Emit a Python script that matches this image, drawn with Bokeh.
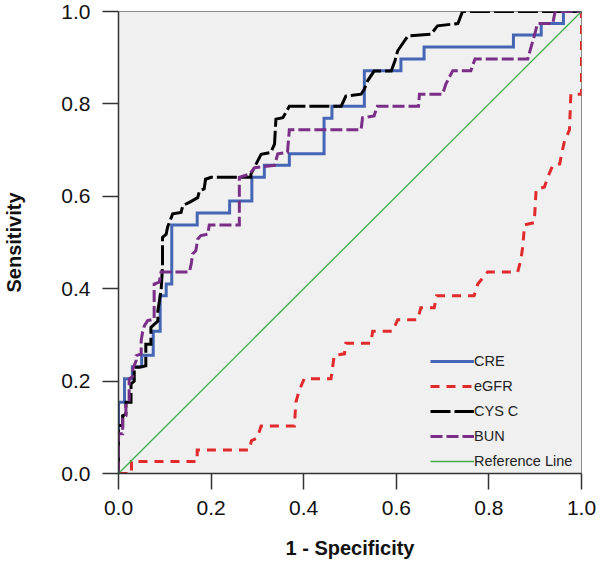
from bokeh.plotting import figure
from bokeh.models import FixedTicker, PrintfTickFormatter, Legend, LegendItem
from bokeh.embed import file_html
from bokeh.resources import INLINE

# ---- data (ROC curve vertices) ----
cre_fpr = [0, 0, 0.013, 0.013, 0.03, 0.03, 0.05, 0.05, 0.075, 0.075, 0.09, 0.09, 0.103, 0.103,
           0.115, 0.115, 0.17, 0.17, 0.24, 0.24, 0.288, 0.288, 0.315, 0.315, 0.369, 0.369,
           0.444, 0.444, 0.461, 0.461, 0.531, 0.531, 0.61, 0.61, 0.66, 0.66, 0.853, 0.853,
           0.913, 0.913, 0.961, 0.961, 1.0]
cre_tpr = [0, 0.154, 0.154, 0.205, 0.205, 0.231, 0.231, 0.256, 0.256, 0.308, 0.308, 0.385, 0.385, 0.41,
           0.41, 0.538, 0.538, 0.564, 0.564, 0.59, 0.59, 0.641, 0.641, 0.667, 0.667, 0.692,
           0.692, 0.769, 0.769, 0.795, 0.795, 0.872, 0.872, 0.897, 0.897, 0.923, 0.923, 0.949,
           0.949, 0.974, 0.974, 1.0, 1.0]

egfr_fpr = [0, 0.028, 0.028, 0.17, 0.17, 0.283, 0.287, 0.3, 0.308, 0.38, 0.383, 0.39, 0.401,
            0.459, 0.466, 0.488, 0.491, 0.545, 0.549, 0.592, 0.603, 0.646, 0.653, 0.682, 0.687,
            0.768, 0.776, 0.797, 0.862, 0.869, 0.873, 0.877, 0.898, 0.902, 0.92, 0.927, 0.938,
            0.953, 0.957, 0.963, 0.974, 0.977, 1.0, 1.0]
egfr_tpr = [0, 0, 0.026, 0.026, 0.051, 0.051, 0.071, 0.077, 0.103, 0.103, 0.154, 0.179, 0.205,
            0.205, 0.256, 0.259, 0.282, 0.282, 0.308, 0.308, 0.333, 0.333, 0.359, 0.359, 0.385,
            0.385, 0.41, 0.436, 0.436, 0.462, 0.49, 0.538, 0.543, 0.615, 0.62, 0.641, 0.667,
            0.67, 0.692, 0.718, 0.744, 0.821, 0.821, 1.0]

cys_fpr = [0, 0, 0.009, 0.009, 0.016, 0.016, 0.027, 0.027, 0.034, 0.034, 0.045, 0.059, 0.059,
           0.07, 0.07, 0.085, 0.085, 0.092, 0.095, 0.095, 0.103, 0.106, 0.117, 0.135, 0.139,
           0.153, 0.171, 0.175, 0.185, 0.188, 0.2, 0.286, 0.286, 0.308, 0.329, 0.337, 0.34,
           0.355, 0.369, 0.481, 0.491, 0.524, 0.531, 0.538, 0.552, 0.589, 0.597, 0.603, 0.625,
           0.675, 0.689, 0.733, 0.743, 1.0]
cys_tpr = [0, 0.104, 0.104, 0.125, 0.128, 0.154, 0.154, 0.194, 0.2, 0.23, 0.23, 0.233, 0.28,
           0.28, 0.316, 0.33, 0.352, 0.396, 0.446, 0.511, 0.518, 0.533, 0.562, 0.565, 0.58,
           0.587, 0.597, 0.612, 0.616, 0.637, 0.641, 0.641, 0.648, 0.691, 0.695, 0.713, 0.767,
           0.77, 0.795, 0.795, 0.817, 0.821, 0.832, 0.85, 0.871, 0.871, 0.893, 0.915, 0.947,
           0.951, 0.969, 0.974, 1.0, 1.0]

bun_fpr = [0, 0, 0.009, 0.009, 0.016, 0.016, 0.023, 0.023, 0.031, 0.031, 0.038, 0.038, 0.049,
           0.049, 0.052, 0.056, 0.063, 0.077, 0.077, 0.088, 0.092, 0.153, 0.157, 0.16, 0.167,
           0.171, 0.178, 0.193, 0.196, 0.261, 0.261, 0.283, 0.294, 0.337, 0.344, 0.365, 0.369,
           0.524, 0.527, 0.552, 0.559, 0.648, 0.65, 0.7, 0.707, 0.722, 0.761, 0.77, 0.884,
           0.891, 0.898, 0.905, 0.938, 0.943, 1.0]
bun_tpr = [0, 0.086, 0.086, 0.122, 0.125, 0.151, 0.158, 0.205, 0.21, 0.226, 0.244, 0.255, 0.259,
           0.288, 0.306, 0.32, 0.331, 0.334, 0.41, 0.414, 0.436, 0.436, 0.453, 0.475, 0.482,
           0.507, 0.515, 0.518, 0.538, 0.538, 0.641, 0.648, 0.662, 0.667, 0.692, 0.695, 0.744,
           0.744, 0.77, 0.774, 0.795, 0.795, 0.821, 0.821, 0.843, 0.872, 0.872, 0.897, 0.897,
           0.923, 0.947, 0.974, 0.974, 1.0, 1.0]

ref_x = [0, 1]
ref_y = [0, 1]

tick_values = [0.0, 0.2, 0.4, 0.6, 0.8, 1.0]
series_names = ["CRE", "eGFR", "CYS C", "BUN", "Reference Line"]

# ---- figure ----
p = figure(width=598, height=562, x_range=(0, 1), y_range=(0, 1),
           output_backend="svg", toolbar_location=None,
           min_border_left=118, min_border_right=17, min_border_top=11, min_border_bottom=89)
p.background_fill_color = "#f0f0f0"
p.border_fill_color = "white"
p.grid.visible = False
p.outline_line_color = "#8c8c8c"
p.outline_line_width = 1

for ax in (p.xaxis[0], p.yaxis[0]):
    ax.ticker = FixedTicker(ticks=tick_values)
    ax.formatter = PrintfTickFormatter(format="%.1f")
    ax.major_tick_out = 16
    ax.major_tick_in = 0
    ax.minor_tick_out = 0
    ax.minor_tick_in = 0
    ax.axis_line_color = "#333333"
    ax.axis_line_width = 1.5
    ax.major_tick_line_color = "#333333"
    ax.major_tick_line_width = 1.5
    ax.major_label_text_font = "Liberation Sans"
    ax.major_label_text_font_size = "21px"
    ax.major_label_text_color = "#111111"
    ax.axis_label_text_font = "Liberation Sans"
    ax.axis_label_text_font_size = "20px"
    ax.axis_label_text_font_style = "bold"
    ax.axis_label_text_color = "#111111"

p.xaxis.axis_label = "1 - Specificity"
p.yaxis.axis_label = "Sensitivity"
p.xaxis.major_label_standoff = 11
p.xaxis.axis_label_standoff = 19
p.yaxis.major_label_standoff = 12
p.yaxis.axis_label_standoff = 33

r_cre = p.line(cre_fpr, cre_tpr, line_color="#4565b5", line_width=3, line_join="miter")
r_egfr = p.line(egfr_fpr, egfr_tpr, line_color="#e2292c", line_width=3, line_dash="9 7",
                line_join="miter")
r_cys = p.line(cys_fpr, cys_tpr, line_color="#000000", line_width=3, line_dash="20 4",
               line_join="miter")
r_bun = p.line(bun_fpr, bun_tpr, line_color="#7a2e88", line_width=3, line_dash="12 4",
               line_join="miter")
r_ref = p.line(ref_x, ref_y, line_color="#3cae4a", line_width=1.3)

legend = Legend(items=[LegendItem(label=n, renderers=[r]) for n, r in
                       zip(series_names, [r_cre, r_egfr, r_cys, r_bun, r_ref])],
                location=(312, 2))
legend.border_line_color = None
legend.background_fill_alpha = 0
legend.padding = 0
legend.margin = 0
legend.spacing = 5
legend.glyph_width = 44
legend.glyph_height = 20
legend.label_height = 20
legend.label_standoff = 0
legend.label_text_font = "Liberation Sans"
legend.label_text_font_size = "14.5px"
legend.label_text_color = "#222222"
p.add_layout(legend)

open("out.html", "w").write(file_html(p, INLINE))
